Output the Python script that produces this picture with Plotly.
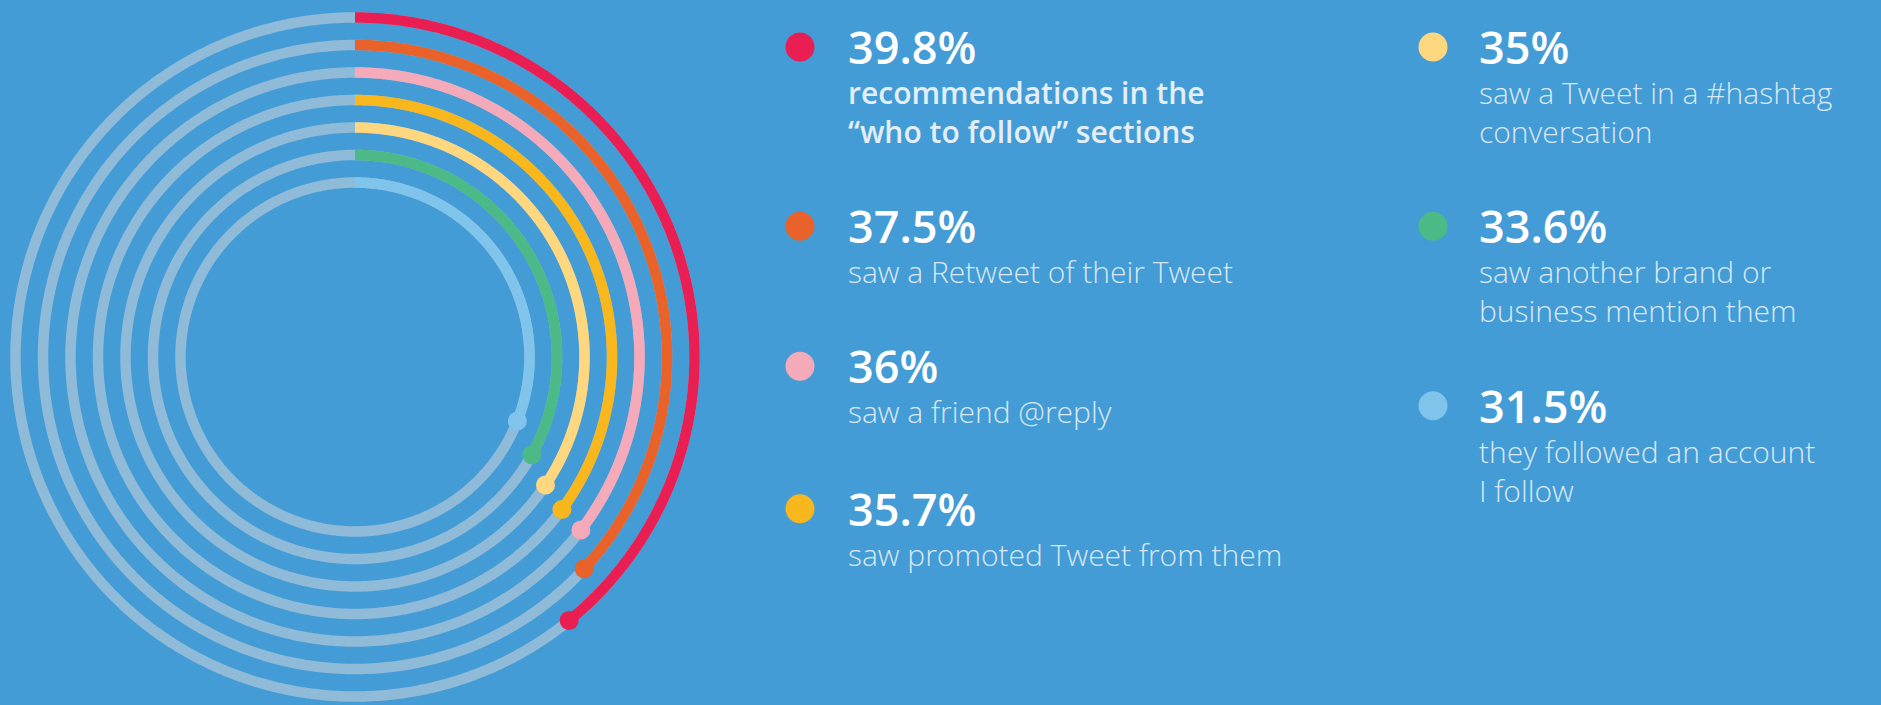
import numpy as np
import plotly.graph_objects as go

# ---------------- data ----------------
values = [39.8, 37.5, 36, 35.7, 35, 33.6, 31.5]
value_labels = ["39.8%", "37.5%", "36%", "35.7%", "35%", "33.6%", "31.5%"]
descriptions = [
    ["recommendations in the", "\u201cwho to follow\u201d sections"],
    ["saw a Retweet of their Tweet"],
    ["saw a friend @reply"],
    ["saw promoted Tweet from them"],
    ["saw a Tweet in a #hashtag", "conversation"],
    ["saw another brand or", "business mention them"],
    ["they followed an account", "I follow"],
]
colors = ["#E91E52", "#E8622A", "#F4AAB9", "#F8B71D", "#FFD77F", "#4BBA86", "#80C4EC"]

# ---------------- styling / layout ----------------
W, H = 1881, 705
BG = "#439CD6"
TRACK = "#8FBAD8"
CX, CY = 355, 357
POLAR_R = 346
R_OUTER = 339.5
RING_STEP = 27.5
STROKE = 10.5
DOT = 19
DEG_PER_PCT = 3.54

dot_x = [800, 800, 800, 800, 1433, 1433, 1433]
text_x = [846, 846, 846, 846, 1477, 1477, 1477]
num_baseline = [64, 243.3, 383.3, 525.7, 64, 243.3, 422.7]
NUM_SIZE = 45
DESC_SIZE = 30
DESC_GAP = 40
FONT = "Open Sans"
ASC = 1.069   # font ascent (em)
DESC_EM = 0.293  # font descent (em)
LINE_SP = 1.3  # plotly line spacing (em)

fig = go.Figure()

# rings (background tracks)
for i, v in enumerate(values):
    r = R_OUTER - i * RING_STEP
    th = np.linspace(0, 360, 721)
    fig.add_trace(go.Scatterpolar(r=np.full(th.size, r), theta=th, mode="lines",
                                  line=dict(color=TRACK, width=STROKE),
                                  hoverinfo="skip", showlegend=False))
# value arcs + end dots
for i, v in enumerate(values):
    r = R_OUTER - i * RING_STEP
    end = v * DEG_PER_PCT
    th = np.linspace(0, end, 400)
    fig.add_trace(go.Scatterpolar(r=np.full(th.size, r), theta=th, mode="lines",
                                  line=dict(color=colors[i], width=STROKE),
                                  hoverinfo="skip", showlegend=False))
    fig.add_trace(go.Scatterpolar(r=[r], theta=[end], mode="markers",
                                  marker=dict(color=colors[i], size=DOT, line=dict(width=0)),
                                  hoverinfo="skip", showlegend=False, cliponaxis=False))

# legend dots
fig.add_trace(go.Scatter(x=dot_x, y=[b - 17 for b in num_baseline], mode="markers",
                         marker=dict(color=colors, size=29, line=dict(width=0)),
                         hoverinfo="skip", showlegend=False))


def mid_from_baseline(bl, size, n=1):
    # y of the text-box middle so that the first line's baseline sits at bl
    top = bl - ASC * size
    bottom = bl + (n - 1) * LINE_SP * size + DESC_EM * size
    return (top + bottom) / 2


annotations = []
for i in range(len(values)):
    annotations.append(dict(x=text_x[i], y=mid_from_baseline(num_baseline[i], NUM_SIZE),
                            xref="x", yref="y", xanchor="left", yanchor="middle",
                            text=value_labels[i], showarrow=False,
                            font=dict(family=FONT, size=NUM_SIZE, color="white", weight=600)))
    lines = descriptions[i]
    bl = num_baseline[i] + DESC_GAP
    annotations.append(dict(x=text_x[i], y=mid_from_baseline(bl, DESC_SIZE, len(lines)),
                            xref="x", yref="y", xanchor="left", yanchor="middle", align="left",
                            text="<br>".join(lines), showarrow=False,
                            font=dict(family=FONT, size=DESC_SIZE,
                                      color="#DAE8F3" if i else "#E4EEF6",
                                      weight=300 if i else 600)))

fig.update_layout(
    width=W, height=H,
    margin=dict(l=0, r=0, t=0, b=0),
    paper_bgcolor=BG, plot_bgcolor="rgba(0,0,0,0)",
    xaxis=dict(range=[0, W], visible=False, fixedrange=True, domain=[0, 1]),
    yaxis=dict(range=[H, 0], visible=False, fixedrange=True, domain=[0, 1]),
    polar=dict(
        domain=dict(x=[(CX - POLAR_R) / W, (CX + POLAR_R) / W],
                    y=[(H - CY - POLAR_R) / H, (H - CY + POLAR_R) / H]),
        bgcolor="rgba(0,0,0,0)",
        radialaxis=dict(range=[0, POLAR_R], visible=False),
        angularaxis=dict(visible=False, rotation=90, direction="clockwise"),
    ),
    annotations=annotations,
    showlegend=False,
)

fig.write_html("out.html", config={"displayModeBar": False},
               post_script="document.body.style.margin='0';document.body.style.overflow='hidden';")
